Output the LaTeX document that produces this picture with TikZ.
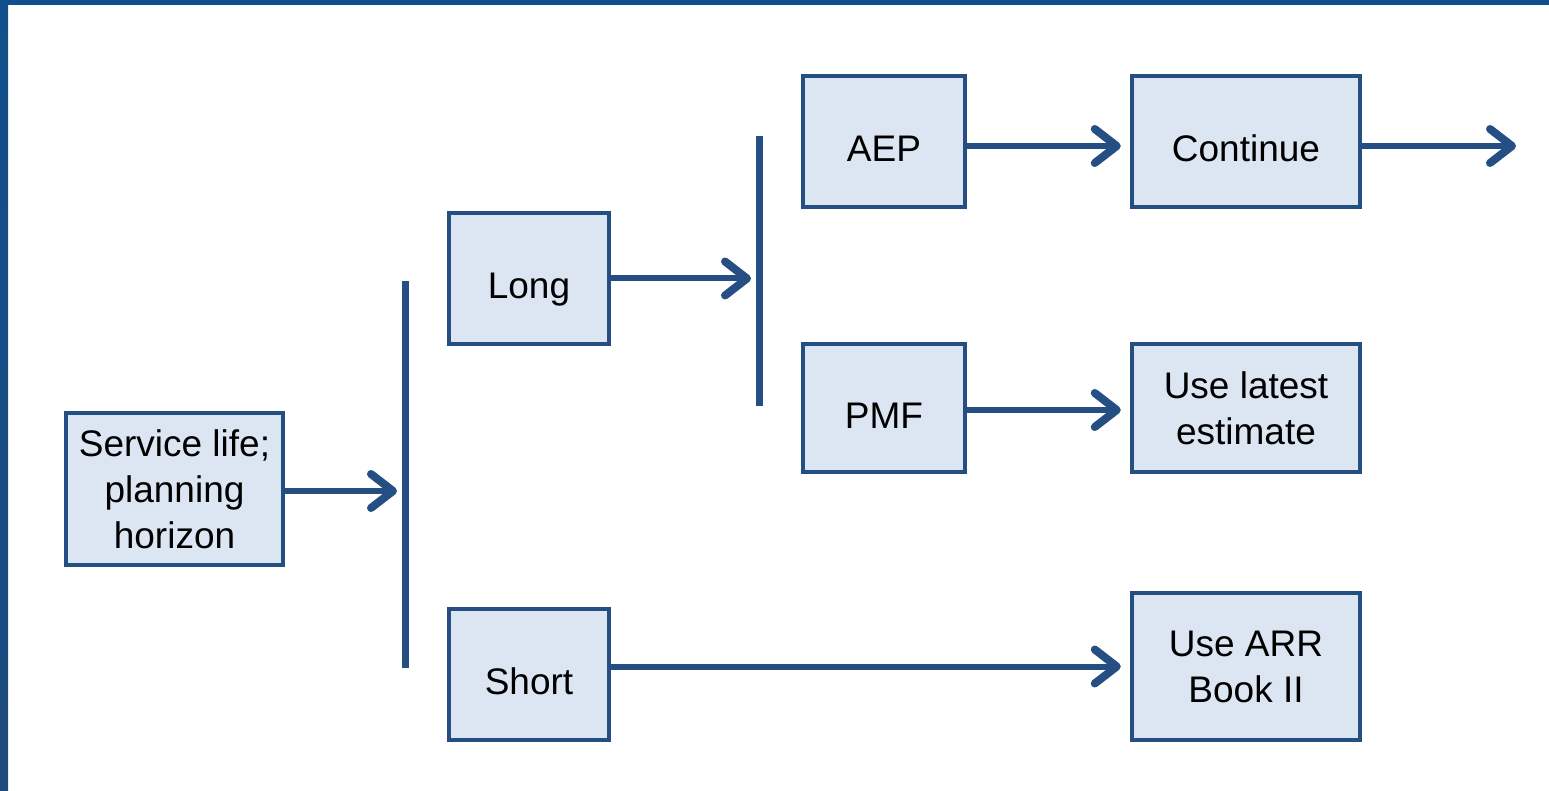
\documentclass[tikz,border=0pt]{standalone}
\usepackage{fontspec}
\setmainfont{Liberation Sans}
\usetikzlibrary{arrows.meta}
\definecolor{frameblue}{HTML}{114F8C}
\definecolor{frameblueb}{HTML}{1E4A7E}
\definecolor{linkblue}{HTML}{254E82}
\definecolor{boxfill}{HTML}{DCE6F2}
\tikzset{
  stepbox/.style={draw=linkblue, fill=boxfill, line width=4.5pt, inner sep=0pt,
    align=center, font=\fontsize{37}{46}\selectfont},
  oneline/.style={text height=40pt, text depth=0pt},
  branchbar/.style={draw=linkblue, line width=7pt},
  flow/.style={draw=linkblue, line width=6pt,
    -{Straight Barb[round, length=22pt, width=34pt, line width=8pt]}},
}
\begin{document}
\begin{tikzpicture}[x=1pt, y=-1pt]
  \useasboundingbox (0,0) rectangle (1549,791);
  % slide frame
  \fill[frameblue] (0,0) rectangle (1549,5);
  \shade[top color=frameblue, bottom color=frameblueb] (0,0) rectangle (8,791);

  % boxes
  \node[stepbox, minimum width=217pt, minimum height=152pt] (svc) at (174.5,489) {Service life;\\planning\\horizon};
  \node[stepbox, oneline, minimum width=160pt, minimum height=131pt] (long) at (529,278.5) {Long};
  \node[stepbox, oneline, minimum width=160pt, minimum height=131pt] (short) at (529,674.5) {Short};
  \node[stepbox, oneline, minimum width=162pt, minimum height=131pt] (aep) at (884,141.5) {AEP};
  \node[stepbox, oneline, minimum width=162pt, minimum height=128pt] (pmf) at (884,408) {PMF};
  \node[stepbox, oneline, minimum width=228pt, minimum height=131pt] (cont) at (1246,141.5) {Continue};
  \node[stepbox, minimum width=228pt, minimum height=128pt] (latest) at (1246,408) {Use latest\\estimate};
  \node[stepbox, minimum width=228pt, minimum height=147pt] (arr) at (1246,666.5) {Use ARR\\Book II};

  % branch bars
  \coordinate (b1top) at (405,281);
  \coordinate (b1bot) at (405,668);
  \coordinate (b2top) at (759,136);
  \coordinate (b2bot) at (759,406);
  \coordinate (out) at (1516,146);
  \draw[branchbar] (b1top) -- (b1bot);
  \draw[branchbar] (b2top) -- (b2bot);

  % connectors
  \draw[flow, shorten >=8pt] ([yshift=-2pt]svc.east) -- ([yshift=-2pt]svc.east -| b1top);
  \draw[flow, shorten >=8pt] (long.east) -- (long.east -| b2top);
  \draw[flow, shorten >=9pt] ([yshift=-4.5pt]aep.east) -- ([yshift=-4.5pt]cont.west);
  \draw[flow] (cont.east |- out) -- (out);
  \draw[flow, shorten >=9pt] ([yshift=-2pt]pmf.east) -- ([yshift=-2pt]latest.west);
  \draw[flow, shorten >=9pt] (short.east |- arr.west) -- (arr.west);
\end{tikzpicture}
\end{document}
